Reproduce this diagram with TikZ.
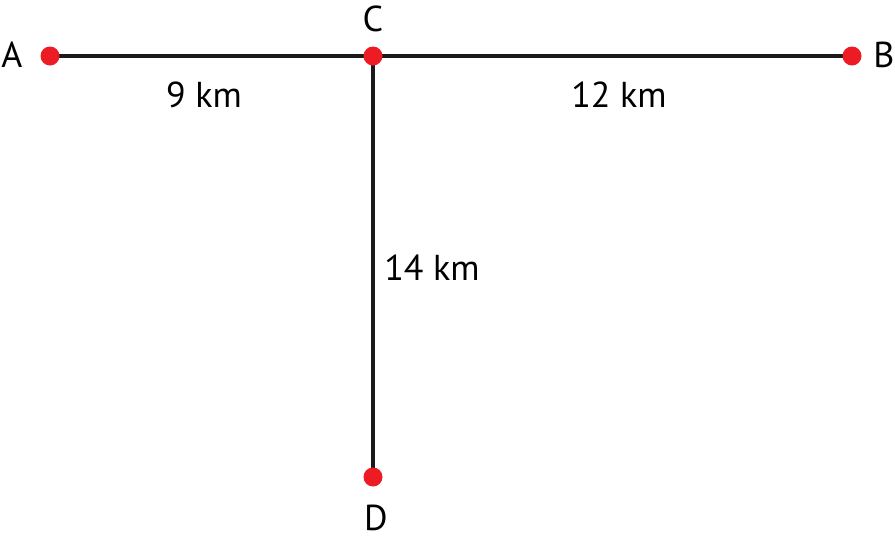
\documentclass[tikz,border=0pt]{standalone}
\usepackage{fontspec}
\setmainfont{PT Sans}
\definecolor{dotred}{HTML}{ED1C24}
\definecolor{linegray}{HTML}{1A1A1A}
\begin{document}
\begin{tikzpicture}[x=1pt,y=-1pt,
  pt/.style={circle,fill=dotred,inner sep=0pt,minimum size=19pt},
  road/.style={draw=linegray,line width=4pt},
  lbl/.style={font=\fontsize{36}{42}\selectfont,inner sep=0pt,anchor=base}]
\useasboundingbox (0,0) rectangle (895,539);
\coordinate (A) at (50,56);
\coordinate (C) at (373,56);
\coordinate (B) at (852,56);
\coordinate (D) at (373,477);
\draw[road] (A) -- (B);
\draw[road] (C) -- (D);
\node[pt] (pA) at (A) {};
\node[pt] (pC) at (C) {};
\node[pt] (pB) at (B) {};
\node[pt] (pD) at (D) {};
\node[lbl] (tA) at (12,67) {A};
\node[lbl] (tC) at (373,31) {C};
\node[lbl] (tB) at (884,67) {B};
\node[lbl] (tD) at (376,530) {D};
\node[lbl] (l1) at (204,107) {9 km};
\node[lbl] (l2) at (619,107) {12 km};
\node[lbl] (l3) at (432,280) {14 km};
\end{tikzpicture}
\end{document}
